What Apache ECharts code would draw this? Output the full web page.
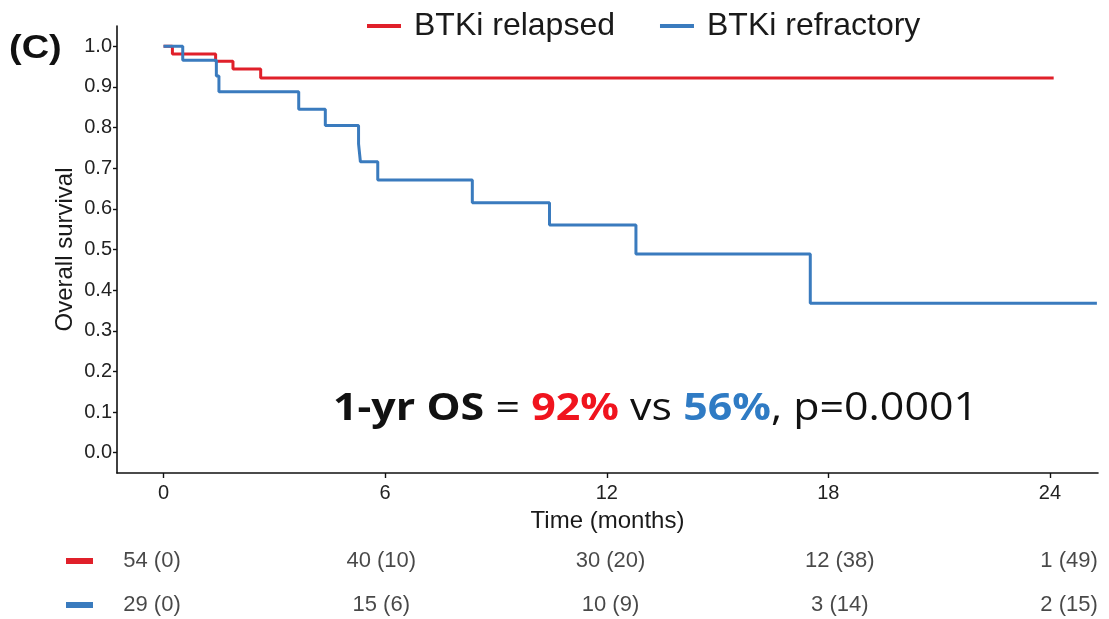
<!DOCTYPE html>
<html>
<head>
<meta charset="utf-8">
<script src="https://cdn.jsdelivr.net/npm/echarts@6/dist/echarts.min.js"></script>
<style>
html,body{margin:0;padding:0;background:#fff;}
#chart{width:1109px;height:619px;}
</style>
</head>
<body>
<div id="chart"></div>
<script>
// ---- data ----
const seriesNames = ['BTKi relapsed', 'BTKi refractory'];
const relapsedTime = [0, 0.24, 1.41, 1.88, 2.63, 24.1];
const relapsedSurv = [1.0, 0.981, 0.963, 0.944, 0.922, 0.922];
const refractoryTime = [0, 0.52, 1.43, 1.50, 3.66, 4.38, 5.28, 5.33, 5.80, 8.36, 10.45, 12.79, 17.51, 25.27];
const refractorySurv = [1.0, 0.966, 0.927, 0.888, 0.845, 0.805, 0.760, 0.716, 0.671, 0.615, 0.560, 0.489, 0.368, 0.368];
const xTicks = [0, 6, 12, 18, 24];
const yTicks = [0, 0.1, 0.2, 0.3, 0.4, 0.5, 0.6, 0.7, 0.8, 0.9, 1.0];
const riskTimes = [0, 6, 12, 18, 24];
const riskRows = [0, 1];
const relapsedRisk = ['54 (0)', '40 (10)', '30 (20)', '12 (38)', '1 (49)'];
const refractoryRisk = ['29 (0)', '15 (6)', '10 (9)', '3 (14)', '2 (15)'];

const RED = '#E0202A';
const BLUE = '#3A7BBE';
const FONT = '"Liberation Sans", Arial, sans-serif';

const zip = (a, b) => a.map((v, i) => [v, b[i]]);
const riskData = (vals, row) => riskTimes.map((t, i) => ({ value: [t, row], label: { formatter: vals[i] } }));

const chart = echarts.init(document.getElementById('chart'), null, { renderer: 'canvas' });
chart.setOption({
  animation: false,
  backgroundColor: '#fff',
  textStyle: { fontFamily: FONT },
  legend: {
    data: seriesNames,
    left: 362, top: 5,
    icon: 'rect', itemWidth: 34, itemHeight: 4, itemGap: 45,
    textStyle: { fontSize: 32, color: '#1a1a1a', fontFamily: FONT, padding: [0, 0, 0, 8] }
  },
  grid: [
    { left: 117, right: 11, top: 26, bottom: 146 },
    { left: 120, right: 9, top: 539, height: 80 }
  ],
  xAxis: [
    {
      gridIndex: 0, type: 'value', min: -1.26, max: 25.3,
      name: 'Time (months)', nameLocation: 'middle', nameGap: 36,
      nameTextStyle: { fontSize: 24, color: '#1a1a1a', fontFamily: FONT },
      axisLine: { show: true, onZero: false, lineStyle: { color: '#111', width: 1.6 } },
      axisTick: { show: true, customValues: xTicks, length: 5, lineStyle: { color: '#111', width: 1.4 } },
      axisLabel: { customValues: xTicks, fontSize: 20, color: '#222', margin: 10 },
      splitLine: { show: false }
    },
    {
      gridIndex: 1, type: 'value', min: -0.837, max: 24.81, show: false
    }
  ],
  yAxis: [
    {
      gridIndex: 0, type: 'value', min: -0.05, max: 1.05,
      name: 'Overall survival', nameLocation: 'middle', nameGap: 40, nameRotate: 90,
      nameMoveOverlap: false,
      nameTextStyle: { fontSize: 24, color: '#1a1a1a', fontFamily: FONT },
      axisLine: { show: true, onZero: false, lineStyle: { color: '#111', width: 1.6 } },
      axisTick: { show: true, customValues: yTicks, length: 4, lineStyle: { color: '#111', width: 1.4 } },
      axisLabel: { customValues: yTicks, fontSize: 20, color: '#222', margin: 5, formatter: v => v.toFixed(1) },
      splitLine: { show: false }
    },
    {
      gridIndex: 1, type: 'value', min: -0.5, max: 1.318, inverse: true, show: false
    }
  ],
  series: [
    {
      name: seriesNames[0], type: 'line', step: 'end', xAxisIndex: 0, yAxisIndex: 0,
      data: zip(relapsedTime, relapsedSurv), showSymbol: false, symbol: 'none',
      color: RED, lineStyle: { color: RED, width: 3 }, z: 2
    },
    {
      name: seriesNames[1], type: 'line', step: 'end', xAxisIndex: 0, yAxisIndex: 0,
      data: zip(refractoryTime, refractorySurv), showSymbol: false, symbol: 'none',
      color: BLUE, lineStyle: { color: BLUE, width: 3 }, z: 3
    },
    {
      type: 'scatter', xAxisIndex: 1, yAxisIndex: 1, symbolSize: 0, silent: true, clip: false,
      data: riskData(relapsedRisk, riskRows[0]).concat(riskData(refractoryRisk, riskRows[1])),
      label: { show: true, position: 'inside', fontSize: 22, color: '#1a1a1a', fontFamily: FONT }
    }
  ],
  graphic: [
    { type: 'text', left: 9, top: 32, scaleX: 1.15, style: { text: '(C)', font: 'bold 33px "Liberation Sans", Arial', fill: '#111' } },
    { type: 'rect', left: 66, top: 558, shape: { width: 27, height: 6 }, style: { fill: RED } },
    { type: 'rect', left: 66, top: 602, shape: { width: 27, height: 6 }, style: { fill: BLUE } },
    {
      type: 'text', left: 333, top: 390, scaleX: 1.13,
      style: {
        text: '{b|1-yr OS}{n| = }{r|92%}{n| vs }{bl|56%}{n|, p=0.0001}',
        rich: {
          b: { fontFamily: 'Open Sans', fontWeight: 'bold', fontSize: 38, fill: '#111' },
          n: { fontFamily: 'Open Sans', fontSize: 38, fill: '#111' },
          r: { fontFamily: 'Open Sans', fontWeight: 'bold', fontSize: 38, fill: '#F0141E' },
          bl: { fontFamily: 'Open Sans', fontWeight: 'bold', fontSize: 38, fill: '#2F7BC4' }
        }
      }
    }
  ]
});
</script>
</body>
</html>
